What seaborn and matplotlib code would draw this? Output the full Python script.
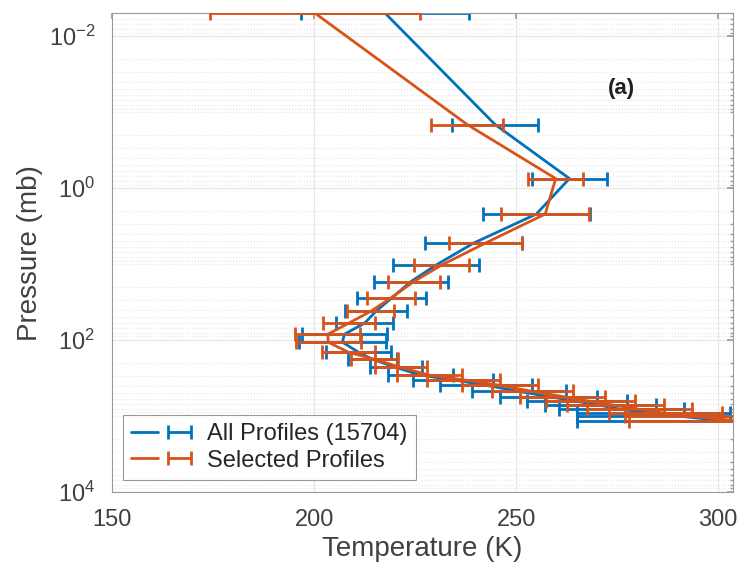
import numpy as np
import pandas as pd
import seaborn as sns
import matplotlib.pyplot as plt
from matplotlib.lines import Line2D
from matplotlib.ticker import FixedLocator, LogLocator, NullFormatter, FuncFormatter
from matplotlib.legend_handler import HandlerTuple

# pressure levels (mb) and mean temperature / spread (K)
pressure = [0.005, 0.146, 0.75, 2.2, 5.3, 10.3, 17, 28, 42, 60, 84, 107, 145, 180,
            230, 290, 335, 395, 475, 555, 645, 725, 820, 925, 1015, 1150]

temp_all = [217.6, 244.8, 263.2, 255.0, 239.5, 230.2, 224.0, 219.2, 215.3, 212.5, 207.5,
            207.0, 211.0, 214.5, 220.3, 226.3, 234.4, 242.6, 250.7, 258.0, 265.1, 270.8,
            276.0, 284.0, 291.0, 301.0]
err_all = [20.8, 10.6, 9.3, 13.2, 12.0, 10.6, 9.2, 8.5, 7.6, 7.0, 10.5,
           10.8, 8.0, 6.0, 6.4, 8.0, 10.0, 11.4, 11.6, 12.0, 12.4, 13.7,
           15.5, 19.0, 26.0, 36.0]

temp_sel = [200.25, 237.9, 259.8, 257.2, 242.4, 231.6, 224.7, 219.0, 214.0, 208.6, 203.4,
            203.5, 208.5, 215.0, 221.5, 228.5, 237.0, 246.0, 254.0, 261.5, 268.5, 274.5,
            280.5, 287.0, 294.0, 304.0]
err_sel = [26.0, 8.9, 6.8, 10.9, 9.1, 6.8, 6.5, 6.0, 5.8, 6.4, 8.0,
           8.0, 6.5, 5.8, 6.5, 8.0, 9.0, 9.5, 10.0, 10.5, 11.0, 12.0,
           13.0, 14.0, 17.0, 26.0]

series_names = ['All Profiles (15704)', 'Selected Profiles']
colors = ['#0072BD', '#D95319']

sns.set_theme(style='white')
plt.rcParams['font.family'] = ['Liberation Sans', 'DejaVu Sans']
plt.rcParams['mathtext.default'] = 'regular'

df = pd.concat([
    pd.DataFrame({'temp': temp_all, 'pres': pressure, 'err': err_all, 'series': series_names[0]}),
    pd.DataFrame({'temp': temp_sel, 'pres': pressure, 'err': err_sel, 'series': series_names[1]}),
])

fig, ax = plt.subplots(figsize=(7.42, 5.76), dpi=100)
fig.subplots_adjust(left=0.151, right=0.988, bottom=0.146, top=0.977)
ax.set_yscale('log')

handles = []
for k, (name, c) in enumerate(zip(series_names, colors)):
    sub = df[df['series'] == name]
    eb = ax.errorbar(sub['temp'], sub['pres'], xerr=sub['err'], fmt='none',
                     ecolor=c, elinewidth=2, capsize=5, capthick=2, zorder=2 + 2 * k)
    sns.lineplot(data=sub, x='temp', y='pres', sort=False, estimator=None,
                 color=c, lw=2, ax=ax, zorder=3 + 2 * k)
    handles.append((Line2D([], [], color=c, lw=2), eb))

ax.set_xlim(150, 303.7)
ax.set_ylim(1e4, 0.005)
ax.set_xticks([150, 200, 250, 300])
ax.yaxis.set_major_locator(FixedLocator([1e-2, 1e0, 1e2, 1e4]))
ax.yaxis.set_minor_locator(LogLocator(base=10, subs=np.arange(1, 10), numticks=30))
ax.yaxis.set_minor_formatter(NullFormatter())
ax.yaxis.set_major_formatter(FuncFormatter(lambda v, pos: r'$10^{%d}$' % round(np.log10(v))))

ax.grid(which='major', color='#e6e6e6', lw=0.8, ls='-')
ax.yaxis.grid(which='minor', color='#e6e6e6', lw=0.8, ls=':')
ax.set_axisbelow(True)

for s in ax.spines.values():
    s.set_color('#9a9a9a')
    s.set_linewidth(0.8)
ax.tick_params(which='both', direction='in', top=True, right=True, colors='#9a9a9a',
               labelcolor='#404040', labelsize=17)
ax.tick_params(which='major', length=4)
ax.tick_params(which='minor', length=2)
ax.tick_params(axis='x', which='major', pad=12)
ax.tick_params(axis='y', which='major', pad=12)

ax.set_xlabel('Temperature (K)', fontsize=20, color='#404040', labelpad=4)
ax.set_ylabel('Pressure (mb)', fontsize=20, color='#404040', labelpad=4)

ax.text(0.821, 0.843, '(a)', transform=ax.transAxes, fontsize=16, fontweight='bold',
        color='#202020', ha='center', va='center')

leg = ax.legend(handles, series_names, handler_map={tuple: HandlerTuple(ndivide=None)},
                loc='lower left', bbox_to_anchor=(0.018, 0.025), borderaxespad=0,
                fontsize=17, fancybox=False, framealpha=1, edgecolor='#9a9a9a',
                handlelength=2.6, borderpad=0.35, labelspacing=0.2, handletextpad=0.6)
leg.get_frame().set_linewidth(0.8)
for t in leg.get_texts():
    t.set_color('#262626')

fig.savefig('out.png', dpi=100)
